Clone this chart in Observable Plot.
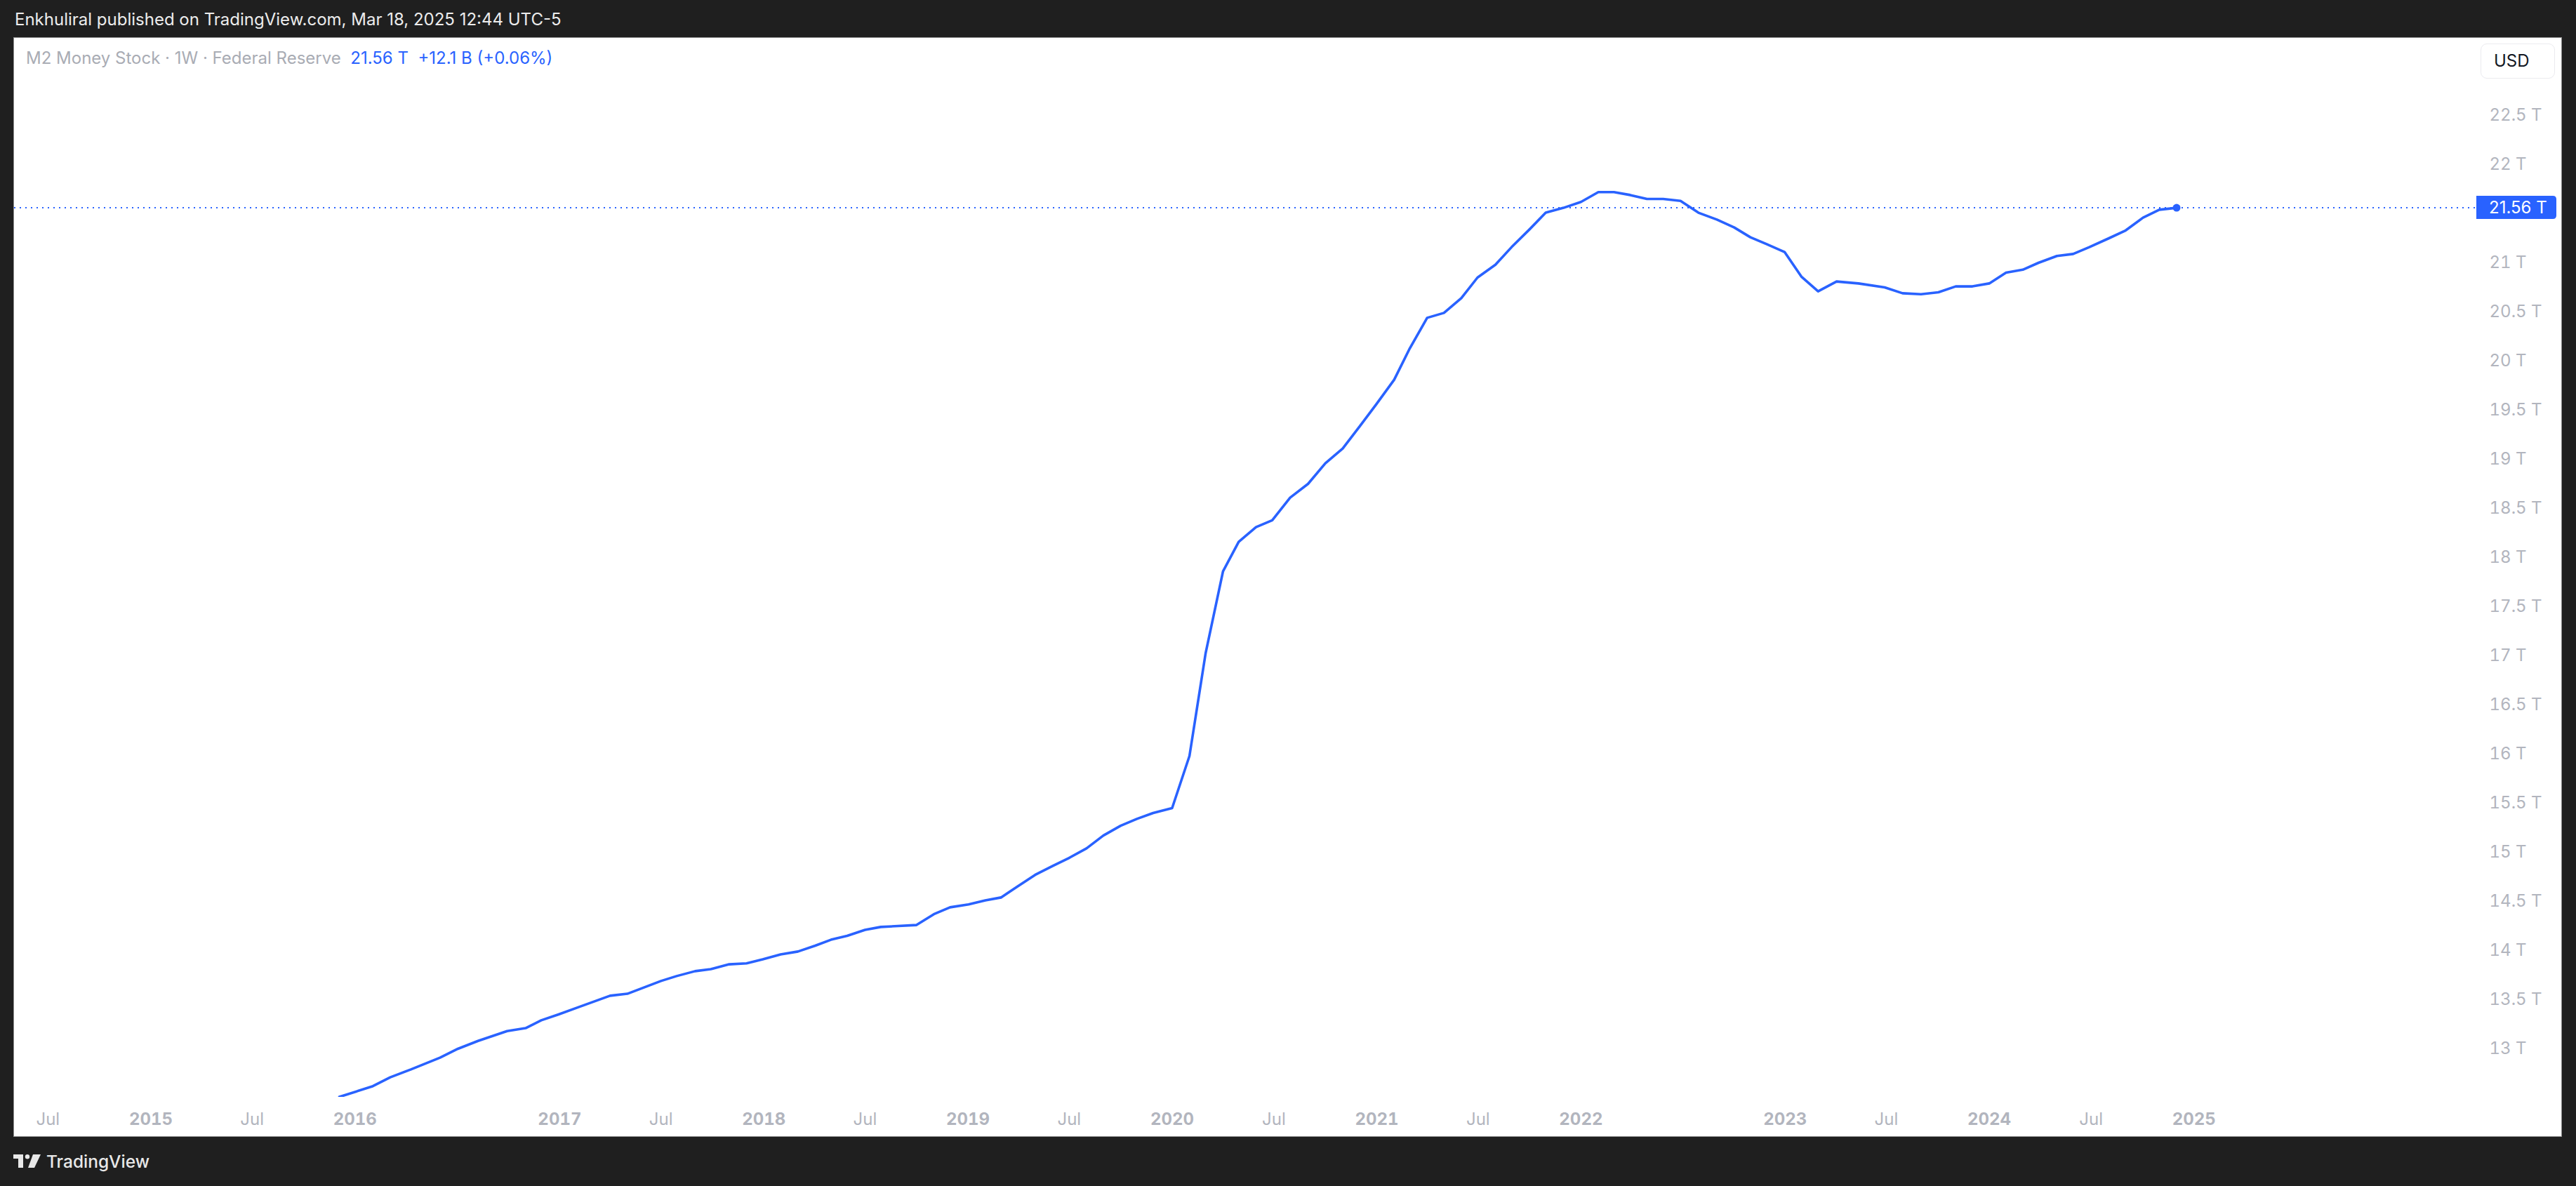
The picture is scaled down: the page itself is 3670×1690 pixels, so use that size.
<!DOCTYPE html>
<html>
<head>
<meta charset="utf-8">
<script src="https://cdn.jsdelivr.net/npm/d3@7"></script>
<script src="https://cdn.jsdelivr.net/npm/@observablehq/plot@0.6"></script>
<style>
  html, body { margin:0; padding:0; width:3670px; height:1690px; overflow:hidden; background:#1f1f1f; font-family: Inter, "Noto Sans", sans-serif; }
  #header { position:absolute; left:21px; top:0; height:53px; line-height:56px; color:#ececec; font-size:24px; white-space:pre; }
  #panel { position:absolute; left:20px; top:54px; width:3629px; height:1565px; background:#ffffff; box-shadow:0 0 0 1px #8c8c8c; }
  #legend { position:absolute; left:17px; top:14px; font-size:24px; color:#a9acb4; white-space:pre; }
  #legend .v { color:#2962ff; }
  #usd { position:absolute; left:3514px; top:8px; width:106px; height:50px; box-sizing:border-box; border:1.5px solid #ebebef; border-radius:9px; color:#131722; font-size:24px; line-height:48px; padding-left:18px; }
  #chart { position:absolute; left:0; top:0; }
  #footer { position:absolute; left:19px; top:1640px; height:30px; color:#e8e8e8; font-size:24.5px; font-weight:500; }
  #footer svg { position:absolute; left:0; top:5px; }
  #footer span { position:absolute; left:47px; top:0; line-height:30px; white-space:pre; }
</style>
</head>
<body>
<div id="header"></div>
<div id="panel">
  <div id="chart"></div>
  <div id="legend"></div>
  <div id="usd">USD</div>
</div>
<div id="footer">
  <svg width="42" height="20" viewBox="0 0 42 20">
    <rect x="0" y="0" width="14" height="6" fill="#e8e8e8"/>
    <rect x="7" y="0" width="7" height="19" fill="#e8e8e8"/>
    <circle cx="20" cy="3.2" r="3.2" fill="#e8e8e8"/>
    <polygon points="28,0 39,0 30,19 21,19" fill="#e8e8e8"/>
  </svg>
  <span>TradingView</span>
</div>
<script>
// ---- texts ----
const headerText = "Enkhuliral published on TradingView.com, Mar 18, 2025 12:44 UTC-5";
const seriesTitle = "M2 Money Stock · 1W · Federal Reserve";
const lastText = "21.56 T";
const changeText = "+12.1 B (+0.06%)";

// ---- data (trillions USD) ----
const dates = [
  "2015-12-04","2016-02-02","2016-03-04","2016-04-10","2016-06-01","2016-07-03","2016-08-08","2016-09-29",
  "2016-11-01","2016-11-29","2016-12-30","2017-02-02","2017-04-01","2017-05-02","2017-07-01","2017-07-29",
  "2017-08-31","2017-09-28","2017-10-31","2017-12-01","2017-12-30","2018-01-31","2018-03-03","2018-04-03",
  "2018-05-01","2018-05-30","2018-07-01","2018-07-29","2018-10-01","2018-11-01","2018-11-30","2019-01-02",
  "2019-02-01","2019-03-01","2019-03-30","2019-05-01","2019-06-01","2019-06-30","2019-08-01","2019-08-31",
  "2019-10-01","2019-10-30","2019-11-28","2020-01-01","2020-02-01","2020-03-01","2020-04-01","2020-04-29",
  "2020-05-30","2020-06-28","2020-07-30","2020-08-31","2020-10-01","2020-11-01","2020-12-02","2020-12-31",
  "2021-02-01","2021-03-01","2021-04-01","2021-05-01","2021-06-01","2021-06-30","2021-08-01","2021-08-30",
  "2021-10-01","2021-10-30","2021-12-01","2022-01-01","2022-02-01","2022-03-01","2022-03-30","2022-04-29",
  "2022-05-28","2022-06-28","2022-07-30","2022-09-01","2022-10-02","2022-10-31","2022-11-29","2022-12-31",
  "2023-01-30","2023-03-01","2023-04-03","2023-05-12","2023-06-28","2023-07-30","2023-09-01","2023-10-02",
  "2023-11-02","2023-12-02","2024-01-01","2024-01-31","2024-03-01","2024-03-29","2024-05-01","2024-05-30",
  "2024-06-28","2024-08-02","2024-09-01","2024-10-02","2024-10-31","2024-12-01"
];
const values = [
  12.51,12.62,12.71,12.79,12.91,13.00,13.08,13.18,
  13.21,13.29,13.35,13.42,13.54,13.56,13.69,13.74,
  13.79,13.81,13.86,13.87,13.91,13.96,13.99,14.05,
  14.11,14.15,14.21,14.24,14.26,14.37,14.44,14.47,
  14.51,14.54,14.65,14.77,14.86,14.94,15.04,15.17,
  15.27,15.34,15.40,15.45,15.98,17.03,17.86,18.16,
  18.31,18.38,18.61,18.75,18.96,19.11,19.34,19.56,
  19.81,20.13,20.44,20.49,20.64,20.85,20.98,21.16,
  21.34,21.51,21.56,21.62,21.72,21.72,21.69,21.65,
  21.65,21.63,21.51,21.44,21.36,21.26,21.19,21.11,
  20.86,20.71,20.81,20.79,20.75,20.69,20.68,20.70,
  20.76,20.76,20.79,20.90,20.93,21.00,21.07,21.09,
  21.16,21.25,21.33,21.46,21.54,21.56
];
const lastValue = 21.56;

// ---- axis ticks (21.5 T is hidden behind the price label in the reference) ----
const yearTicks = ["2015-01-01","2016-01-01","2017-01-01","2018-01-01","2019-01-01","2020-01-01","2021-01-01","2022-01-01","2023-01-01","2024-01-01","2025-01-01"];
const julyTicks = ["2014-07-01","2015-07-01","2017-07-01","2018-07-01","2019-07-01","2020-07-01","2021-07-01","2023-07-01","2024-07-01"];
const priceTicks = [13,13.5,14,14.5,15,15.5,16,16.5,17,17.5,18,18.5,19,19.5,20,20.5,21,22,22.5];

// ---- build ----
document.getElementById("header").textContent = headerText;
document.getElementById("legend").innerHTML =
  `${seriesTitle}  <span class="v">${lastText}  ${changeText}</span>`;

const data = dates.map((d, i) => ({date: new Date(d), value: values[i]}));
const last = data[data.length - 1];
const blue = "#2962ff";
const gray = "#b2b5be";

const chart = Plot.plot({
  width: 3629,
  height: 1565,
  marginLeft: 0,
  marginRight: 123,
  marginTop: 0,
  marginBottom: 56,
  style: {background: "transparent", fontFamily: "Inter, 'Noto Sans', sans-serif", fontSize: "24px", overflow: "visible"},
  x: {type: "utc", domain: [new Date("2014-05-02"), new Date("2026-05-19")]},
  y: {domain: [12.507, 23.2857]},
  marks: [
    Plot.ruleY([lastValue], {stroke: blue, strokeWidth: 2, strokeDasharray: "2,6"}),
    Plot.line(data, {x: "date", y: "value", stroke: blue, strokeWidth: 3.6, clip: true, strokeLinejoin: "round"}),
    Plot.dot([last], {x: "date", y: "value", r: 5.5, fill: blue}),
    Plot.axisY(priceTicks, {anchor: "right", tickSize: 0, tickPadding: 20, tickFormat: d => `${d} T`, fill: gray, label: null}),
    Plot.axisX(yearTicks.map(d => new Date(d)), {anchor: "bottom", tickSize: 0, tickPadding: 22, tickFormat: d3.utcFormat("%Y"), fill: gray, fontWeight: "bold", label: null}),
    Plot.axisX(julyTicks.map(d => new Date(d)), {anchor: "bottom", tickSize: 0, tickPadding: 22, tickFormat: () => "Jul", fill: gray, label: null})
  ]
});
document.getElementById("chart").appendChild(chart);

// price label on the right scale
const svg = d3.select(chart);
const yPos = chart.scale("y").apply(lastValue);
const x0 = 3508, x1 = 3622, h = 33, r = 5;
svg.append("path")
  .attr("d", `M${x0},${yPos - h/2} H${x1 - r} Q${x1},${yPos - h/2} ${x1},${yPos - h/2 + r} V${yPos + h/2 - r} Q${x1},${yPos + h/2} ${x1 - r},${yPos + h/2} H${x0} Z`)
  .attr("fill", blue);
svg.append("text")
  .attr("x", 3526).attr("y", yPos).attr("dy", "0.36em")
  .attr("text-anchor", "start")
  .attr("fill", "#ffffff").attr("font-size", 24)
  .text(lastText);
</script>
</body>
</html>
